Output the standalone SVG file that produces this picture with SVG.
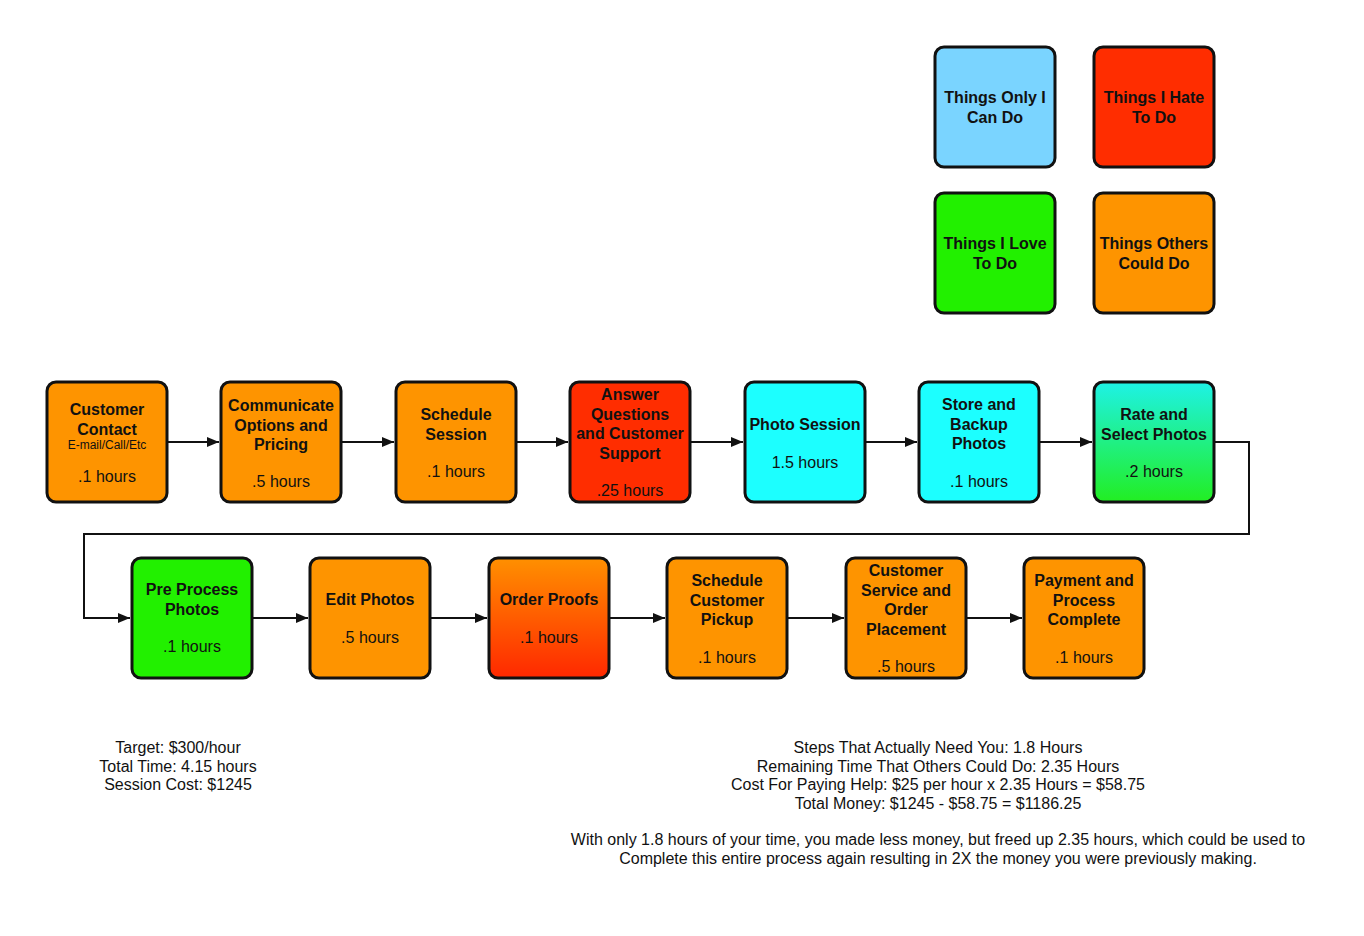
<svg xmlns="http://www.w3.org/2000/svg" width="1364" height="936" viewBox="0 0 1364 936">
<style>
.box{stroke:#111;stroke-width:3}
.t{font-family:"Liberation Sans",Arial,sans-serif;font-size:16px;font-weight:bold;fill:#111;text-anchor:middle}
.h{font-family:"Liberation Sans",Arial,sans-serif;font-size:16px;fill:#111;text-anchor:middle}
.s{font-family:"Liberation Sans",Arial,sans-serif;font-size:12px;fill:#111;text-anchor:middle}
.n{font-family:"Liberation Sans",Arial,sans-serif;font-size:16px;fill:#111;text-anchor:middle}
.or{fill:#FE9400}.rd{fill:#FF2D00}.cy{fill:#1CFFFF}.lb{fill:#7AD4FF}.gr{fill:#22F000}
.c{stroke:#111;stroke-width:2;fill:none}
</style>
<defs>
<marker id="ah" viewBox="0 0 12 10" refX="12" refY="5" markerWidth="12" markerHeight="10" markerUnits="userSpaceOnUse" orient="auto"><path d="M0,0 L12,5 L0,10 z" fill="#111"/></marker>
<linearGradient id="gRate" x1="0" y1="0" x2="0" y2="1"><stop offset="0" stop-color="#1EF2E6"/><stop offset="1" stop-color="#22EE22"/></linearGradient>
<linearGradient id="gOrder" x1="0" y1="0" x2="0" y2="1"><stop offset="0" stop-color="#FF9000"/><stop offset="1" stop-color="#FF2800"/></linearGradient>
</defs>
<rect width="1364" height="936" fill="#fff"/>

<g id="legend-only">
<rect class="box lb" x="935" y="47" width="120" height="120" rx="9"/>
<text class="t" x="995" y="103">Things Only I</text><text class="t" x="995" y="123">Can Do</text>
</g>
<g id="legend-hate">
<rect class="box rd" x="1094" y="47" width="120" height="120" rx="9"/>
<text class="t" x="1154" y="103">Things I Hate</text><text class="t" x="1154" y="123">To Do</text>
</g>
<g id="legend-love">
<rect class="box gr" x="935" y="193" width="120" height="120" rx="9"/>
<text class="t" x="995" y="249">Things I Love</text><text class="t" x="995" y="269">To Do</text>
</g>
<g id="legend-others">
<rect class="box or" x="1094" y="193" width="120" height="120" rx="9"/>
<text class="t" x="1154" y="249">Things Others</text><text class="t" x="1154" y="269">Could Do</text>
</g>

<g id="connectors">
<line class="c" x1="167" y1="442" x2="219" y2="442" marker-end="url(#ah)"/>
<line class="c" x1="341" y1="442" x2="394" y2="442" marker-end="url(#ah)"/>
<line class="c" x1="516" y1="442" x2="568" y2="442" marker-end="url(#ah)"/>
<line class="c" x1="690" y1="442" x2="743" y2="442" marker-end="url(#ah)"/>
<line class="c" x1="865" y1="442" x2="917" y2="442" marker-end="url(#ah)"/>
<line class="c" x1="1039" y1="442" x2="1092" y2="442" marker-end="url(#ah)"/>
<polyline class="c" points="1214,442 1249,442 1249,534 84,534 84,618 130,618" marker-end="url(#ah)"/>
<line class="c" x1="252" y1="618" x2="308" y2="618" marker-end="url(#ah)"/>
<line class="c" x1="430" y1="618" x2="487" y2="618" marker-end="url(#ah)"/>
<line class="c" x1="609" y1="618" x2="665" y2="618" marker-end="url(#ah)"/>
<line class="c" x1="787" y1="618" x2="844" y2="618" marker-end="url(#ah)"/>
<line class="c" x1="966" y1="618" x2="1022" y2="618" marker-end="url(#ah)"/>
</g>

<g id="customer-contact">
<rect class="box or" x="47" y="382" width="120" height="120" rx="9"/>
<text class="t" x="107" y="415">Customer</text><text class="t" x="107" y="435">Contact</text>
<text class="s" x="107" y="449">E-mail/Call/Etc</text>
<text class="h" x="107" y="482">.1 hours</text>
</g>
<g id="communicate">
<rect class="box or" x="221" y="382" width="120" height="120" rx="9"/>
<text class="t" x="281" y="411">Communicate</text><text class="t" x="281" y="431">Options and</text><text class="t" x="281" y="450">Pricing</text>
<text class="h" x="281" y="487">.5 hours</text>
</g>
<g id="schedule-session">
<rect class="box or" x="396" y="382" width="120" height="120" rx="9"/>
<text class="t" x="456" y="420">Schedule</text><text class="t" x="456" y="440">Session</text>
<text class="h" x="456" y="477">.1 hours</text>
</g>
<g id="answer-questions">
<rect class="box rd" x="570" y="382" width="120" height="120" rx="9"/>
<text class="t" x="630" y="400">Answer</text><text class="t" x="630" y="420">Questions</text><text class="t" x="630" y="439">and Customer</text><text class="t" x="630" y="459">Support</text>
<text class="h" x="630" y="496">.25 hours</text>
</g>
<g id="photo-session">
<rect class="box cy" x="745" y="382" width="120" height="120" rx="9"/>
<text class="t" x="805" y="430">Photo Session</text>
<text class="h" x="805" y="468">1.5 hours</text>
</g>
<g id="store-backup">
<rect class="box cy" x="919" y="382" width="120" height="120" rx="9"/>
<text class="t" x="979" y="410">Store and</text><text class="t" x="979" y="430">Backup</text><text class="t" x="979" y="449">Photos</text>
<text class="h" x="979" y="487">.1 hours</text>
</g>
<g id="rate-select">
<rect class="box" fill="url(#gRate)" x="1094" y="382" width="120" height="120" rx="9"/>
<text class="t" x="1154" y="420">Rate and</text><text class="t" x="1154" y="440">Select Photos</text>
<text class="h" x="1154" y="477">.2 hours</text>
</g>

<g id="pre-process">
<rect class="box gr" x="132" y="558" width="120" height="120" rx="9"/>
<text class="t" x="192" y="595">Pre Process</text><text class="t" x="192" y="615">Photos</text>
<text class="h" x="192" y="652">.1 hours</text>
</g>
<g id="edit-photos">
<rect class="box or" x="310" y="558" width="120" height="120" rx="9"/>
<text class="t" x="370" y="605">Edit Photos</text>
<text class="h" x="370" y="643">.5 hours</text>
</g>
<g id="order-proofs">
<rect class="box" fill="url(#gOrder)" x="489" y="558" width="120" height="120" rx="9"/>
<text class="t" x="549" y="605">Order Proofs</text>
<text class="h" x="549" y="643">.1 hours</text>
</g>
<g id="schedule-pickup">
<rect class="box or" x="667" y="558" width="120" height="120" rx="9"/>
<text class="t" x="727" y="586">Schedule</text><text class="t" x="727" y="606">Customer</text><text class="t" x="727" y="625">Pickup</text>
<text class="h" x="727" y="663">.1 hours</text>
</g>
<g id="customer-service">
<rect class="box or" x="846" y="558" width="120" height="120" rx="9"/>
<text class="t" x="906" y="576">Customer</text><text class="t" x="906" y="596">Service and</text><text class="t" x="906" y="615">Order</text><text class="t" x="906" y="635">Placement</text>
<text class="h" x="906" y="672">.5 hours</text>
</g>
<g id="payment">
<rect class="box or" x="1024" y="558" width="120" height="120" rx="9"/>
<text class="t" x="1084" y="586">Payment and</text><text class="t" x="1084" y="606">Process</text><text class="t" x="1084" y="625">Complete</text>
<text class="h" x="1084" y="663">.1 hours</text>
</g>

<g id="summary-left">
<text class="n" x="178" y="753">Target: $300/hour</text>
<text class="n" x="178" y="772">Total Time: 4.15 hours</text>
<text class="n" x="178" y="790">Session Cost: $1245</text>
</g>
<g id="summary-right">
<text class="n" x="938" y="753">Steps That Actually Need You: 1.8 Hours</text>
<text class="n" x="938" y="772">Remaining Time That Others Could Do: 2.35 Hours</text>
<text class="n" x="938" y="790">Cost For Paying Help: $25 per hour x 2.35 Hours = $58.75</text>
<text class="n" x="938" y="809">Total Money: $1245 - $58.75 = $1186.25</text>
<text class="n" x="938" y="845">With only 1.8 hours of your time, you made less money, but freed up 2.35 hours, which could be used to</text>
<text class="n" x="938" y="864">Complete this entire process again resulting in 2X the money you were previously making.</text>
</g>
</svg>
